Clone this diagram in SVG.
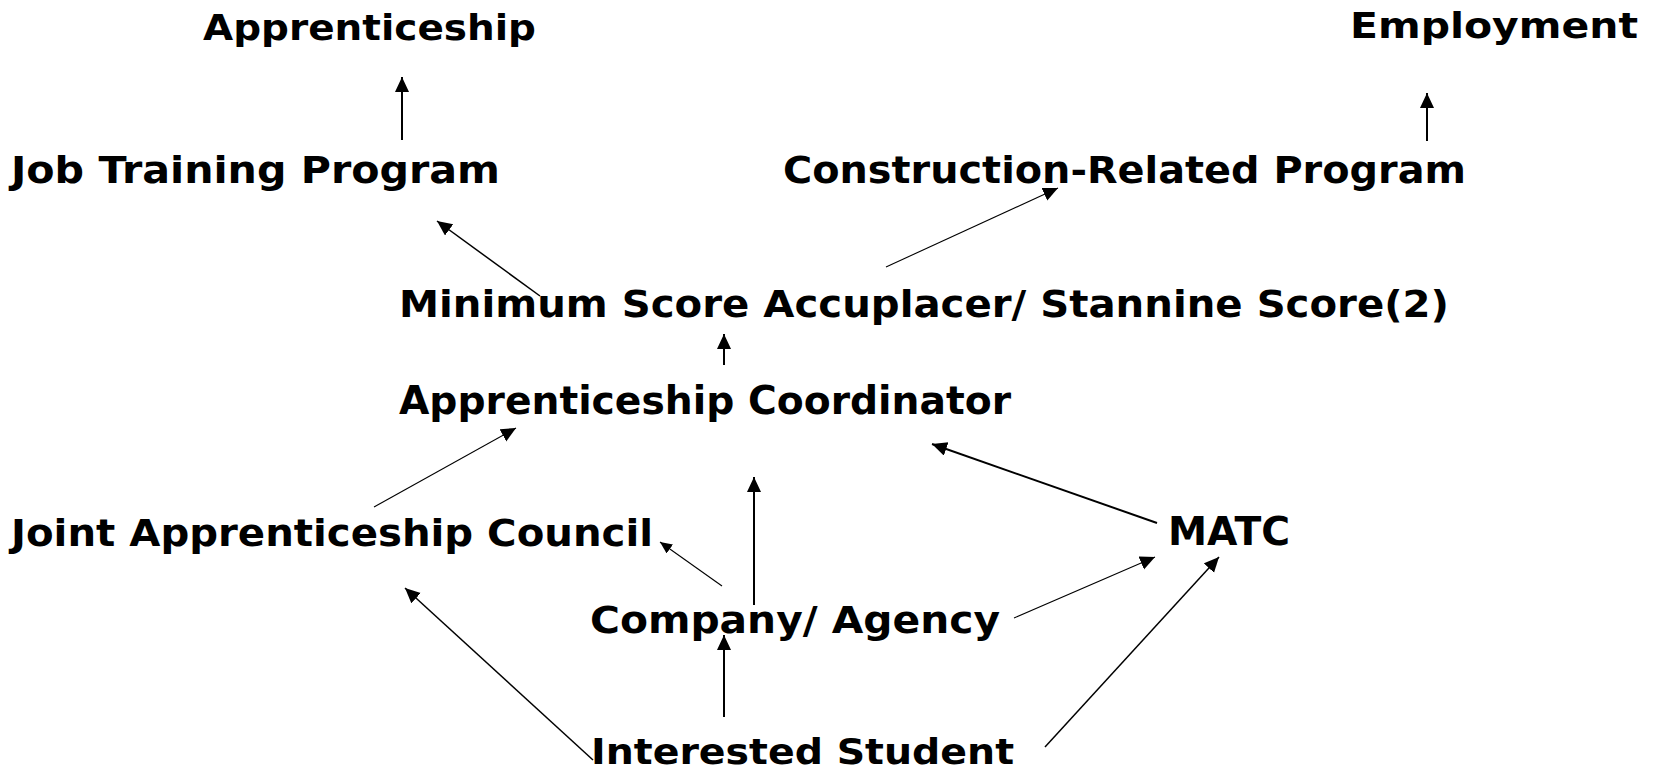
<svg xmlns="http://www.w3.org/2000/svg" width="1655" height="772" viewBox="0 0 1655 772">
  <style>
    .bg { fill: #ffffff; }
    .label { font-family: "DejaVu Sans", Verdana, sans-serif; font-weight: bold; fill: #000000; }
    .edge { stroke: #000000; stroke-width: 1.5; fill: none; marker-end: url(#head); }
    .edge.thin { stroke-width: 1.1; }
    .edge.thick { stroke-width: 2; }
    .edge.small { marker-end: url(#headSmall); }
  </style>
  <defs>
    <marker id="head" markerUnits="userSpaceOnUse" markerWidth="16" markerHeight="15" refX="15" refY="7" orient="auto">
      <path d="M0,0 L15,7 L0,14 z" fill="#000000"/>
    </marker>
    <marker id="headSmall" markerUnits="userSpaceOnUse" markerWidth="13" markerHeight="12" refX="12" refY="5.5" orient="auto">
      <path d="M0,0 L12,5.5 L0,11 z" fill="#000000"/>
    </marker>
  </defs>

  <rect class="bg" x="0" y="0" width="1655" height="772"/>

  <!-- connectors: tail at the source label, arrowhead at the target -->
  <g id="connectors">
    <line class="edge thick" x1="402" y1="140" x2="402" y2="77"/>
    <line class="edge thick" x1="1427" y1="141" x2="1427" y2="93"/>
    <line class="edge" x1="540" y1="296" x2="437" y2="221"/>
    <line class="edge thin" x1="886" y1="267" x2="1058" y2="188"/>
    <line class="edge thick" x1="724" y1="365" x2="724" y2="334"/>
    <line class="edge thin" x1="374" y1="507" x2="516" y2="428"/>
    <line class="edge thick" x1="754" y1="605" x2="754" y2="477"/>
    <line class="edge thick" x1="1157" y1="523" x2="932" y2="444"/>
    <line class="edge thin small" x1="722" y1="586" x2="660" y2="542"/>
    <line class="edge thin" x1="1014" y1="618" x2="1155" y2="557"/>
    <line class="edge thick" x1="724" y1="717" x2="724" y2="635"/>
    <line class="edge" x1="593" y1="760" x2="405" y2="588"/>
    <line class="edge" x1="1045" y1="747" x2="1219" y2="557"/>
  </g>

  <g id="node-apprenticeship">
    <text class="label" x="203" y="40" font-size="36" textLength="333" lengthAdjust="spacingAndGlyphs">Apprenticeship</text>
  </g>
  <g id="node-employment">
    <text class="label" x="1350" y="38" font-size="36" textLength="288" lengthAdjust="spacingAndGlyphs">Employment</text>
  </g>
  <g id="node-job-training">
    <text class="label" x="11" y="183" font-size="38" textLength="489" lengthAdjust="spacingAndGlyphs">Job Training Program</text>
  </g>
  <g id="node-construction">
    <text class="label" x="783" y="183" font-size="38" textLength="683" lengthAdjust="spacingAndGlyphs">Construction-Related Program</text>
  </g>
  <g id="node-minimum-score">
    <text class="label" x="399" y="317" font-size="38" textLength="1050" lengthAdjust="spacingAndGlyphs">Minimum Score Accuplacer/ Stannine Score(2)</text>
  </g>
  <g id="node-coordinator">
    <text class="label" x="399" y="414" font-size="39" textLength="612" lengthAdjust="spacingAndGlyphs">Apprenticeship Coordinator</text>
  </g>
  <g id="node-joint-council">
    <text class="label" x="11" y="546" font-size="38" textLength="642" lengthAdjust="spacingAndGlyphs">Joint Apprenticeship Council</text>
  </g>
  <g id="node-matc">
    <text class="label" x="1168" y="545" font-size="39" textLength="122" lengthAdjust="spacingAndGlyphs">MATC</text>
  </g>
  <g id="node-company">
    <text class="label" x="590" y="633" font-size="38" textLength="410" lengthAdjust="spacingAndGlyphs">Company/ Agency</text>
  </g>
  <g id="node-student">
    <text class="label" x="591" y="764" font-size="36" textLength="423" lengthAdjust="spacingAndGlyphs">Interested Student</text>
  </g>
</svg>
